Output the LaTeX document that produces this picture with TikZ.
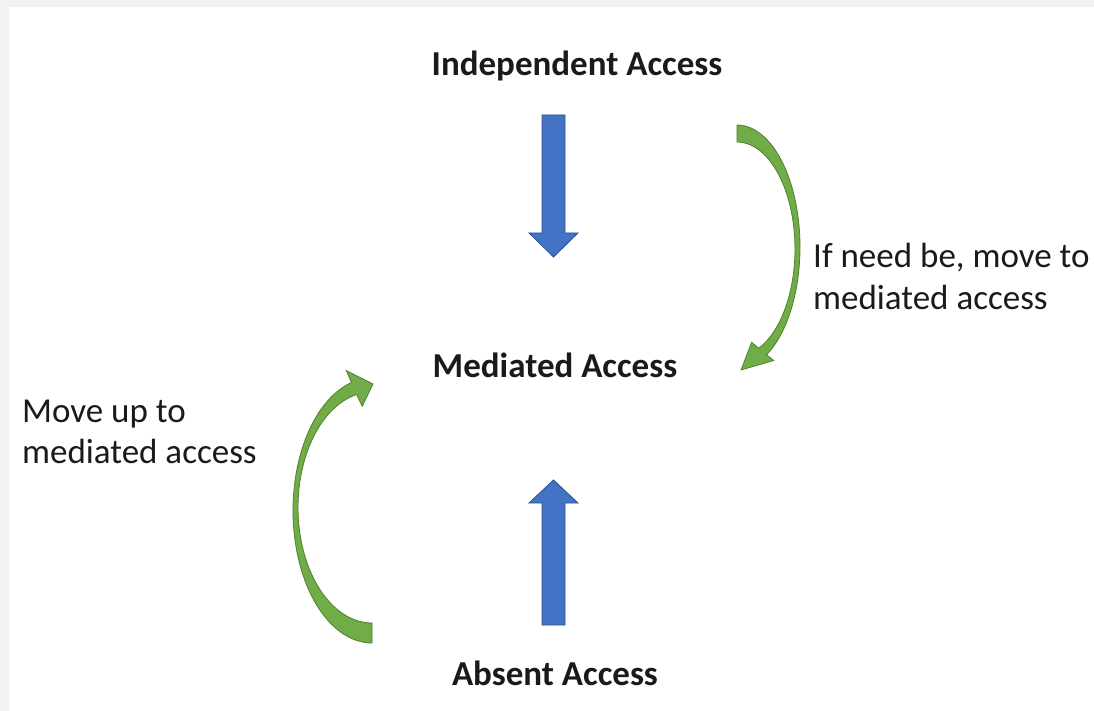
\documentclass[tikz,border=0pt]{standalone}
\usepackage{fontspec}
\setmainfont{Carlito}
\definecolor{bluefill}{HTML}{4472C4}
\definecolor{blueline}{HTML}{2F528F}
\definecolor{greenfill}{HTML}{70AD47}
\definecolor{greenline}{HTML}{507E32}
\definecolor{bggray}{HTML}{F2F2F2}
\definecolor{inkcol}{HTML}{1A1A1A}
\begin{document}
\begin{tikzpicture}[x=1pt,y=-1pt,
  title/.style={font=\fontsize{35}{42}\selectfont\bfseries, text=inkcol, anchor=base, inner sep=0pt},
  note/.style={font=\fontsize{35}{42}\selectfont, text=inkcol, anchor=base west, inner sep=0pt},
  blockarrow/.style={fill=bluefill, draw=blueline, line width=0.8pt, line join=miter},
  curvearrow/.style={fill=greenfill, draw=greenline, line width=0.8pt, line join=miter}]
\useasboundingbox (0,0) rectangle (1094,711);
\fill[bggray] (0,0) rectangle (1094,711);
\fill[white] (9,7) rectangle (1094,711);
% titles
\node[title] (indep) at (577,76) {Independent Access};
\node[title] (med) at (555,377) {Mediated Access};
\node[title] (abs) at (555,685) {Absent Access};
% notes
\node[note] (rnoteA) at (813,268) {If need be, move to};
\node[note] (rnoteB) at (813,309) {mediated access};
\node[note] (lnoteA) at (22,422) {Move up to};
\node[note] (lnoteB) at (22,463) {mediated access};
% blue block arrows
\draw[blockarrow] (542,115) -- (565,115) -- (565,233) -- (578,233) -- (553.5,257) -- (529,233) -- (542,233) -- cycle;
\draw[blockarrow] (542,625) -- (565,625) -- (565,503) -- (578,503) -- (553.5,480) -- (529,503) -- (542,503) -- cycle;
% green curved arrows
\draw[curvearrow] plot[domain=-90:62,samples=60] ({737+63*cos(\x)},{247+122*sin(\x)})
  -- (773.7,360.5) -- (741,370) -- (751.6,342.4)
  -- plot[domain=68:-90,samples=60] ({737+58*cos(\x)},{249+107*sin(\x)}) -- cycle;
\draw[curvearrow] plot[domain=90:255,samples=60] ({372+79*cos(\x)},{510.5+132.5*sin(\x)})
  -- (346.3,370.6) -- (373,384) -- (362.2,406.3)
  -- plot[domain=258:90,samples=60] ({372+74*cos(\x)},{507.5+115.5*sin(\x)}) -- cycle;
\end{tikzpicture}
\end{document}
